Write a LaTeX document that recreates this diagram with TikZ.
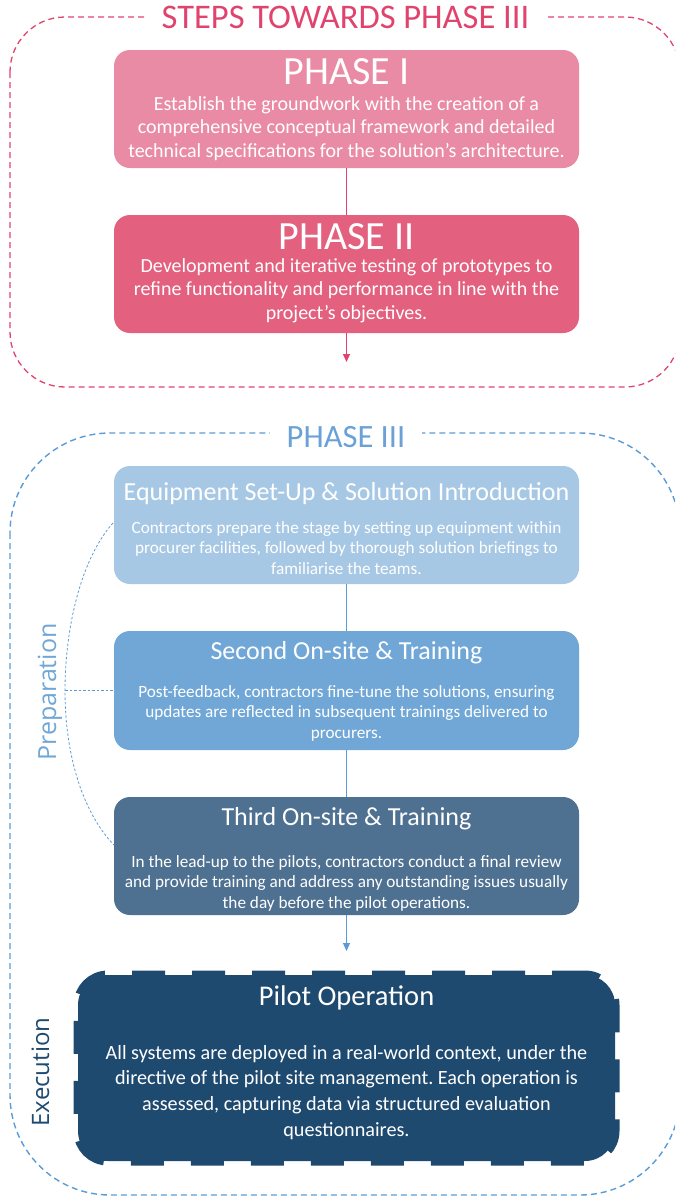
\documentclass[tikz,border=0pt]{standalone}
\usepackage{fontspec}
\setmainfont{Carlito}
\newfontfamily\sidefont{Open Sans}
\usetikzlibrary{arrows.meta}
\frenchspacing
\definecolor{pinkdark}{HTML}{E0446E}
\definecolor{pinkone}{HTML}{E98BA4}
\definecolor{pinktwo}{HTML}{E3607F}
\definecolor{blueframe}{HTML}{5B9BD5}
\definecolor{bluetitle}{HTML}{6AA2D8}
\definecolor{boxone}{HTML}{A7C8E5}
\definecolor{boxtwo}{HTML}{70A7D6}
\definecolor{boxthree}{HTML}{4F7191}
\definecolor{navy}{HTML}{1F4A70}
\tikzset{
  phasebox/.style={rectangle, rounded corners=16pt, minimum width=465pt, minimum height=118pt, inner sep=0pt},
  bigtitle/.style={anchor=base, text=white, font=\fontsize{40}{48}\selectfont, inner sep=0pt},
  boxtitle/.style={anchor=base, text=white, font=\fontsize{26}{31}\selectfont, inner sep=0pt},
  bodyA/.style={anchor=base, text=white, font=\fontsize{20}{23.5}\selectfont, inner sep=0pt},
  bodyB/.style={anchor=base, text=white, font=\fontsize{17.2}{20.5}\selectfont, inner sep=0pt},
  bodyC/.style={anchor=base, text=white, font=\fontsize{20.2}{25.7}\selectfont, inner sep=0pt},
  frametitle/.style={anchor=base, fill=white, inner xsep=17pt, inner ysep=3pt},
  pinkline/.style={draw=pinkdark, line width=1.2pt},
  blueline/.style={draw=blueframe, line width=1.2pt},
  tipstyle/.style={-{Triangle[length=8pt,width=7pt]}},
  dotline/.style={draw=blueframe, line width=0.8pt, dash pattern=on 2.5pt off 2pt},
}
\begin{document}
\begin{tikzpicture}[x=1pt,y=-1pt]
\useasboundingbox (0,0) rectangle (675,1197);
\clip (0,0) rectangle (675,1197);

% ---------- outer frames ----------
\draw[draw=pinkdark, line width=1.3pt, dash pattern=on 6pt off 4pt, rounded corners=55pt] (10,17) rectangle (680,387);
\node[frametitle, text=pinkdark, font=\fontsize{34.5}{41}\selectfont] (t1) at (345.5,28) {STEPS TOWARDS PHASE III};

\draw[draw=blueframe, line width=1.4pt, dash pattern=on 6pt off 4pt, rounded corners=100pt] (10,433) rectangle (680,1195);
\node[frametitle, text=bluetitle, font=\fontsize{32.5}{40}\selectfont] (t2) at (346,447) {PHASE III};

% ---------- Phase I / II ----------
\node[phasebox, fill=pinkone] (p1) at (346.5,109) {};
\node[bigtitle] (p1t) at (346.5,84) {PHASE I};
\node[bodyA] (p1b) at (346.5,110) {\begin{tabular}[t]{@{}c@{}}Establish the groundwork with the creation of a\\comprehensive conceptual framework and detailed\\technical specifications for the solution’s architecture.\end{tabular}};

\node[phasebox, fill=pinktwo] (p2) at (346.5,274) {};
\node[bigtitle] (p2t) at (346.5,249) {PHASE II};
\node[bodyA] (p2b) at (346.5,272) {\begin{tabular}[t]{@{}c@{}}Development and iterative testing of prototypes to\\refine functionality and performance in line with the\\project’s objectives.\end{tabular}};

\coordinate (ar1) at (346.5,362);
\draw[pinkline] (p1.south) -- (p2.north);
\draw[pinkline, tipstyle, fill=pinkdark] (p2.south) -- (ar1);

% ---------- Phase III boxes ----------
\node[phasebox, fill=boxone] (b1) at (346.5,525) {};
\node[boxtitle] (b1t) at (346.5,500) {Equipment Set-Up \& Solution Introduction};
\node[bodyB] (b1b) at (346.5,533) {\begin{tabular}[t]{@{}c@{}}Contractors prepare the stage by setting up equipment within\\procurer facilities, followed by thorough solution briefings to\\familiarise the teams.\end{tabular}};

\node[phasebox, fill=boxtwo, minimum height=119pt] (b2) at (346.5,690.5) {};
\node[boxtitle] (b2t) at (346.5,659) {Second On-site \& Training};
\node[bodyB] (b2b) at (346.5,697) {\begin{tabular}[t]{@{}c@{}}Post-feedback, contractors fine-tune the solutions, ensuring\\updates are reflected in subsequent trainings delivered to\\procurers.\end{tabular}};

\node[phasebox, fill=boxthree] (b3) at (346.5,856) {};
\node[boxtitle] (b3t) at (346.5,825) {Third On-site \& Training};
\node[bodyB] (b3b) at (346.5,867) {\begin{tabular}[t]{@{}c@{}}In the lead-up to the pilots, contractors conduct a final review\\and provide training and address any outstanding issues usually\\the day before the pilot operations.\end{tabular}};

\coordinate (ar2) at (346.5,951);
\draw[blueline] (b1.south) -- (b2.north);
\draw[blueline] (b2.south) -- (b3.north);
\draw[blueline, tipstyle, fill=blueframe] (b3.south) -- (ar2);

% ---------- Pilot operation ----------
\node[rectangle, fill=navy, draw=navy, line width=9pt, dash pattern=on 33pt off 27pt, rounded corners=30pt, minimum width=537pt, minimum height=186pt, inner sep=0pt] (po) at (346.5,1068) {};
\node[boxtitle, font=\fontsize{28.5}{34}\selectfont] (pot) at (346.5,1005) {Pilot Operation};
\node[bodyC] (pob) at (346.5,1059) {\begin{tabular}[t]{@{}c@{}}All systems are deployed in a real-world context, under the\\directive of the pilot site management. Each operation is\\assessed, capturing data via structured evaluation\\questionnaires.\end{tabular}};

% ---------- side labels ----------
\coordinate (brtop) at (113,523);
\coordinate (brmid) at (65,690.5);
\coordinate (brbot) at (114,845);
\draw[dotline] (brtop) .. controls (80,560) and (65,630) .. (brmid) .. controls (65,760) and (85,815) .. (brbot);
\draw[dotline] (brmid) -- (b2.west);
\node[rotate=90, anchor=base, text=boxtwo, font=\sidefont\fontsize{25}{30}\selectfont, inner sep=0pt] (prep) at (56,692) {Preparation};
\node[rotate=90, anchor=base, text=navy, font=\sidefont\fontsize{24}{30}\selectfont, inner sep=0pt] (exec) at (49,1072) {Execution};
\end{tikzpicture}
\end{document}
